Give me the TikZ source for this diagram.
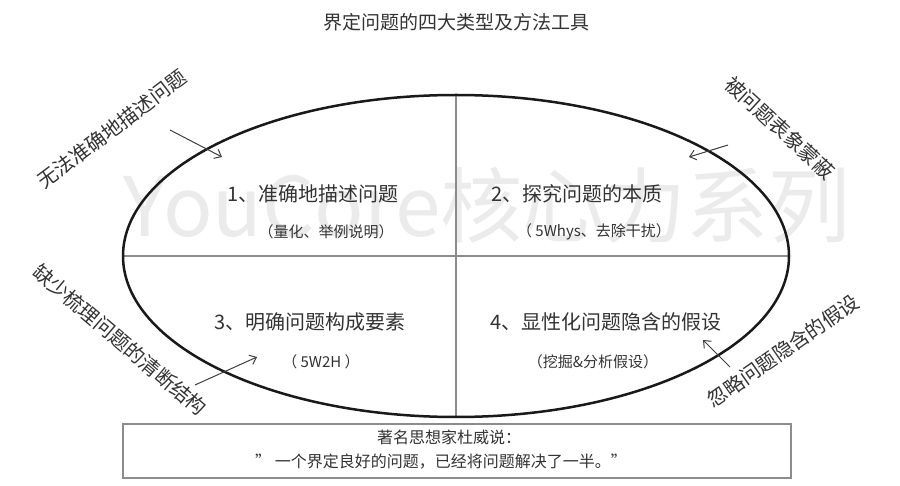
\documentclass[tikz,border=0pt]{standalone}
\usepackage{fontspec}
\setmainfont{Noto Sans CJK SC}
\usetikzlibrary{arrows.meta,shapes.geometric}
\begin{document}
\begin{tikzpicture}[x=1pt,y=-1pt,
  txt/.style={inner sep=0pt, text=black!80},
  main/.style={txt, font=\fontsize{20}{24}\selectfont},
  sub/.style={txt, font=\fontsize{15}{18}\selectfont},
  side/.style={txt, font=\fontsize{20}{24}\selectfont},
  quote/.style={txt, font=\fontsize{16}{19}\selectfont},
  arr/.style={draw=black!75, line width=1pt, -{Straight Barb[length=6pt,width=10pt]}},
  div/.style={draw=black!45, line width=1.5pt},
]
\useasboundingbox[fill=white] (0,0) rectangle (900,486);
% watermark
\node[inner sep=0pt, text=black!8, font=\fontsize{82}{90}\selectfont] (wm) at (487,205) {YouCore核心力系列};
% title
\node[txt, font=\fontsize{19}{22}\selectfont] (title) at (456,22) {界定问题的四大类型及方法工具};
% ellipse
\node[ellipse, minimum width=666pt, minimum height=322pt, inner sep=0pt, outer sep=0pt] (oval) at (456,256) {};
\draw[div] (oval.west) -- (oval.east);
\draw[div] (oval.north) -- (oval.south);
\draw[line width=2.5pt, black!90] (oval.center) ellipse [x radius=333pt, y radius=161pt];
% quadrant labels
\node[main] (q1) at (313,194) {1、准确地描述问题};
\node[sub]  (q1s) at (326,232) {（量化、举例说明）};
\node[main] (q2) at (577,194) {2、探究问题的本质};
\node[sub]  (q2s) at (594,232) {（ 5Whys、去除干扰）};
\node[main] (q3) at (310,322) {3、明确问题构成要素};
\node[sub]  (q3s) at (321,362) {（ 5W2H ）};
\node[main] (q4) at (606,322) {4、显性化问题隐含的假设};
\node[sub]  (q4s) at (593,362) {（挖掘\&分析假设）};
% side labels
\node[side, rotate=37]    (s1) at (112,129) {无法准确地描述问题};
\node[side, rotate=-42.5] (s2) at (780,128) {被问题表象蒙蔽};
\node[side, rotate=-40.3] (s3) at (120,340) {缺少梳理问题的清断结构};
\node[side, rotate=35]    (s4) at (783,351) {忽略问题隐含的假设};
% arrows
\coordinate (a1s) at (170,130); \coordinate (a1e) at (222,157);
\coordinate (a2s) at (728,145); \coordinate (a2e) at (689,157);
\coordinate (a3s) at (195,385); \coordinate (a3e) at (257,357);
\coordinate (a4s) at (730,367); \coordinate (a4e) at (703,340);
\draw[arr] (a1s) -- (a1e);
\draw[arr] (a2s) -- (a2e);
\draw[arr] (a3s) -- (a3e);
\draw[arr] (a4s) -- (a4e);
% quote box
\node[draw=black!45, line width=1.5pt, minimum width=668pt, minimum height=54pt, inner sep=0pt] (qbox) at (457,451) {};
\node[quote] (qt1) at (449,437) {著名思想家杜威说：};
\node[quote] (qt2) at (441,462) {" 一个界定良好的问题，已经将问题解决了一半。"};
\end{tikzpicture}
\end{document}
